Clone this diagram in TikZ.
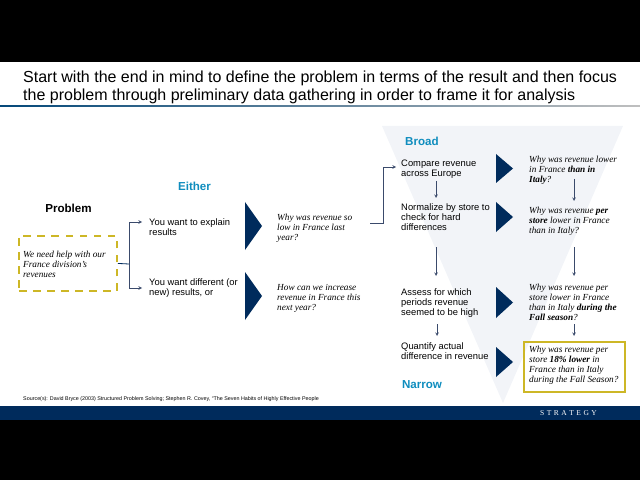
\documentclass[tikz,border=0pt]{standalone}
\usepackage{fontspec}
\setmainfont{Liberation Sans}
\newfontfamily\serifit{Liberation Serif}
\definecolor{navy}{HTML}{002B5C}
\definecolor{teal}{HTML}{0F8DBE}
\definecolor{gold}{HTML}{CDB726}
\definecolor{funnel}{HTML}{F2F4F8}
\definecolor{wire}{HTML}{3A4A6B}
\tikzset{
  plain/.style={anchor=north west,inner sep=0pt,align=left,font=\fontsize{8.0}{8.7}\selectfont},
  quest/.style={anchor=north west,inner sep=0pt,align=left,font=\serifit\itshape\fontsize{7.9}{8.6}\selectfont},
  head/.style={inner sep=0pt,font=\bfseries\fontsize{9.9}{11}\selectfont},
  link/.style={draw=wire,line width=0.4pt,-stealth},
}
\begin{document}
\begin{tikzpicture}[x=0.03cm,y=-0.03cm]
\useasboundingbox (0,0) rectangle (640,480);

%-----------------------
% background
%-----------------------
\fill[black] (0,0) rectangle (640,62);
\fill[black] (0,420) rectangle (640,480);
\fill[navy] (0,406) rectangle (640,420);
\shade[left color=navy!70!teal,right color=gray!50] (0,105.5) rectangle (640,106.6);
\fill[funnel] (382,126) -- (623,126) -- (503,403) -- cycle;

%-----------------------
% title and source
%-----------------------
\node[plain,font=\fontsize{13.65}{15.4}\selectfont] (title) at (23,71)
  {Start with the end in mind to define the problem in terms of the result and then focus\\
   the problem through preliminary data gathering in order to frame it for analysis};
\node[plain,font=\fontsize{4.58}{5}\selectfont] (source) at (23,396.5)
  {Source(s): David Bryce (2003) Structured Problem Solving; Stephen R. Covey, ``The Seven Habits of Highly Effective People};
\node[inner sep=0pt,text=white,font=\serifit\fontsize{6.4}{7}\selectfont] (brand) at (568.5,413)
  {S\,\,T\,\,R\,\,A\,\,T\,\,E\,\,G\,\,Y};

%-----------------------
% headings
%-----------------------
\node[head] (problem) at (68.5,208) {Problem};
\node[head,text=teal] (either) at (194.5,186.5) {Either};
\node[head,text=teal] (broad) at (422,141) {Broad};
\node[head,text=teal] (narrow) at (422,384.5) {Narrow};

%-----------------------
% left part
%-----------------------
\node[draw=gold,line width=1.6pt,dash pattern=on 6.5pt off 5.5pt,
  inner sep=0pt,anchor=north west,minimum width=2.94cm,minimum height=1.65cm] (need) at (18,235) {};
\node[quest] (needtxt) at (23,250.5) {We need help with our\\France division’s\\revenues};
\coordinate (split) at (129,264);
\node[plain] (explain) at (149,218) {You want to explain\\results};
\node[plain] (different) at (149,278) {You want different (or\\new) results, or};
\coordinate (explainin) at (142,222);
\coordinate (differentin) at (142,288);
\draw[draw=navy,line width=0.7pt] (need.east) -- (split);
\draw[link] (split) |- (explainin);
\draw[link] (split) |- (differentin);

\node[quest] (whylow) at (277,213.5) {Why was revenue so\\low in France last\\year?};
\node[quest] (howcan) at (277,284) {How can we increase\\revenue in France this\\next year?};

%-----------------------
% chevrons
%-----------------------
\foreach \x/\ya/\yb in {245/202/250, 245/272/320, 496/154/183, 496/202/232, 496/287/318, 496/347/377}
  \fill[navy] (\x,\ya) -- (\x+17,{(\ya+\yb)/2}) -- (\x,\yb) -- cycle;

%-----------------------
% funnel, left column
%-----------------------
\coordinate (from) at (370,223);
\coordinate (bend) at (383.5,167);
\coordinate (compin) at (396,167);
\draw[link] (from) -| (bend) -- (compin);

\node[plain] (compare) at (401,159.5) {Compare revenue\\across Europe};
\node[plain] (normalize) at (401,203) {Normalize by store to\\check for hard\\differences};
\node[plain] (assess) at (401,288) {Assess for which\\periods revenue\\seemed to be high};
\node[plain] (quantify) at (401,342) {Quantify actual\\difference in revenue};

\coordinate (a1) at (436,181);
\coordinate (a2) at (436,198);
\coordinate (a3) at (436,247);
\coordinate (a4) at (436,276);
\coordinate (a5) at (437,324);
\coordinate (a6) at (437,336);
\draw[link] (a1) -- (a2);
\draw[link] (a3) -- (a4);
\draw[link] (a5) -- (a6);

%-----------------------
% funnel, right column
%-----------------------
\node[quest] (q1) at (529,156) {Why was revenue lower\\in France \textbf{than in}\\\textbf{Italy}?};
\node[quest] (q2) at (529,207) {Why was revenue \textbf{per}\\\textbf{store} lower in France\\than in Italy?};
\node[quest] (q3) at (529,283.5) {Why was revenue per\\store lower in France\\than in Italy \textbf{during the}\\\textbf{Fall season}?};
\node[draw=gold,line width=1.6pt,inner sep=0pt,anchor=north west,minimum width=3.03cm,minimum height=1.5cm] (best) at (523,341) {};
\node[quest] (q4) at (529,346) {Why was revenue per\\store \textbf{18\% lower} in\\France than in Italy\\during the Fall Season?};

\coordinate (b1) at (574,179);
\coordinate (b2) at (574,201);
\coordinate (b3) at (574,247);
\coordinate (b4) at (574,276);
\coordinate (b5) at (574,324);
\coordinate (b6) at (574,336);
\draw[link] (b1) -- (b2);
\draw[link] (b3) -- (b4);
\draw[link] (b5) -- (b6);

\end{tikzpicture}
\end{document}
